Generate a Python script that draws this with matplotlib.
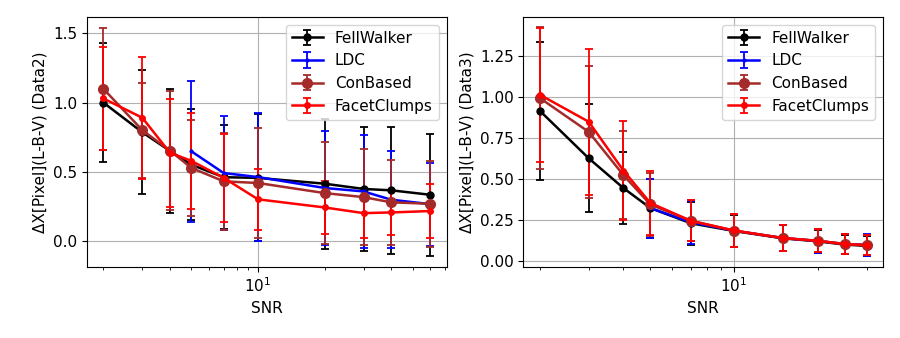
import matplotlib
matplotlib.use("Agg")
import matplotlib.pyplot as plt
from matplotlib.ticker import MultipleLocator

plt.rcParams['font.size'] = 11

# left panel (Data2)
snr2 = [2, 3, 4, 5, 7, 10, 20, 30, 40, 60]
snr2_ldc = [5, 7, 10, 20, 30, 40, 60]

fw2 = [1.00, 0.785, 0.65, 0.55, 0.46, 0.455, 0.413, 0.375, 0.365, 0.333]
fw2_err = [0.43, 0.45, 0.45, 0.40, 0.375, 0.46, 0.47, 0.45, 0.46, 0.44]
ldc2 = [0.647, 0.49, 0.461, 0.382, 0.357, 0.297, 0.265]
ldc2_err = [0.51, 0.41, 0.465, 0.41, 0.41, 0.35, 0.30]
cb2 = [1.10, 0.80, 0.652, 0.527, 0.43, 0.418, 0.345, 0.316, 0.278, 0.268]
cb2_err = [0.44, 0.345, 0.43, 0.345, 0.35, 0.40, 0.37, 0.345, 0.31, 0.31]
fc2 = [1.03, 0.89, 0.637, 0.578, 0.455, 0.30, 0.241, 0.20, 0.205, 0.215]
fc2_err = [0.37, 0.44, 0.39, 0.35, 0.32, 0.22, 0.19, 0.18, 0.16, 0.195]

# right panel (Data3)
snr3 = [2, 3, 4, 5, 7, 10, 15, 20, 25, 30]
snr3_ldc = [5, 7, 10, 15, 20, 25, 30]

fw3 = [0.917, 0.627, 0.445, 0.323, 0.23, 0.183, 0.138, 0.12, 0.10, 0.092]
fw3_err = [0.42, 0.33, 0.22, 0.18, 0.13, 0.10, 0.08, 0.07, 0.06, 0.06]
ldc3 = [0.323, 0.236, 0.185, 0.14, 0.122, 0.104, 0.098]
ldc3_err = [0.18, 0.13, 0.10, 0.08, 0.075, 0.062, 0.065]
cb3 = [0.995, 0.788, 0.524, 0.345, 0.245, 0.185, 0.14, 0.123, 0.104, 0.097]
cb3_err = [0.435, 0.405, 0.27, 0.19, 0.125, 0.10, 0.08, 0.07, 0.06, 0.06]
fc3 = [1.015, 0.85, 0.552, 0.354, 0.245, 0.186, 0.14, 0.123, 0.103, 0.096]
fc3_err = [0.41, 0.445, 0.30, 0.195, 0.125, 0.10, 0.08, 0.07, 0.06, 0.06]

styles = {
    'FellWalker': dict(color='black', marker='o', ms=5),
    'LDC': dict(color='blue', marker='.', ms=4),
    'ConBased': dict(color='brown', marker='o', ms=7),
    'FacetClumps': dict(color='red', marker='o', ms=4),
}

fig, (ax1, ax2) = plt.subplots(1, 2, figsize=(9, 3.38), dpi=100)
fig.subplots_adjust(left=0.0967, right=0.981, bottom=0.21, top=0.95, wspace=0.214)


def draw(ax, series, ylabel, ylim, ystep):
    for name, x, y, e in series:
        st = styles[name]
        ax.errorbar(x, y, yerr=e, label=name, color=st['color'], marker=st['marker'],
                    ms=st['ms'], lw=1.8, elinewidth=1.3, capsize=3, capthick=1.3)
    ax.set_xscale('log')
    ax.set_ylim(*ylim)
    ax.yaxis.set_major_locator(MultipleLocator(ystep))
    ax.set_xlabel('SNR')
    ax.set_ylabel(ylabel)
    ax.grid(True)
    ax.legend(loc='upper right')


draw(ax1, [('FellWalker', snr2, fw2, fw2_err),
           ('LDC', snr2_ldc, ldc2, ldc2_err),
           ('ConBased', snr2, cb2, cb2_err),
           ('FacetClumps', snr2, fc2, fc2_err)],
     'ΔX[Pixel](L-B-V) (Data2)', (-0.19, 1.62), 0.5)

draw(ax2, [('FellWalker', snr3, fw3, fw3_err),
           ('LDC', snr3_ldc, ldc3, ldc3_err),
           ('ConBased', snr3, cb3, cb3_err),
           ('FacetClumps', snr3, fc3, fc3_err)],
     'ΔX[Pixel](L-B-V) (Data3)', (-0.037, 1.49), 0.25)

fig.savefig('out.png')
